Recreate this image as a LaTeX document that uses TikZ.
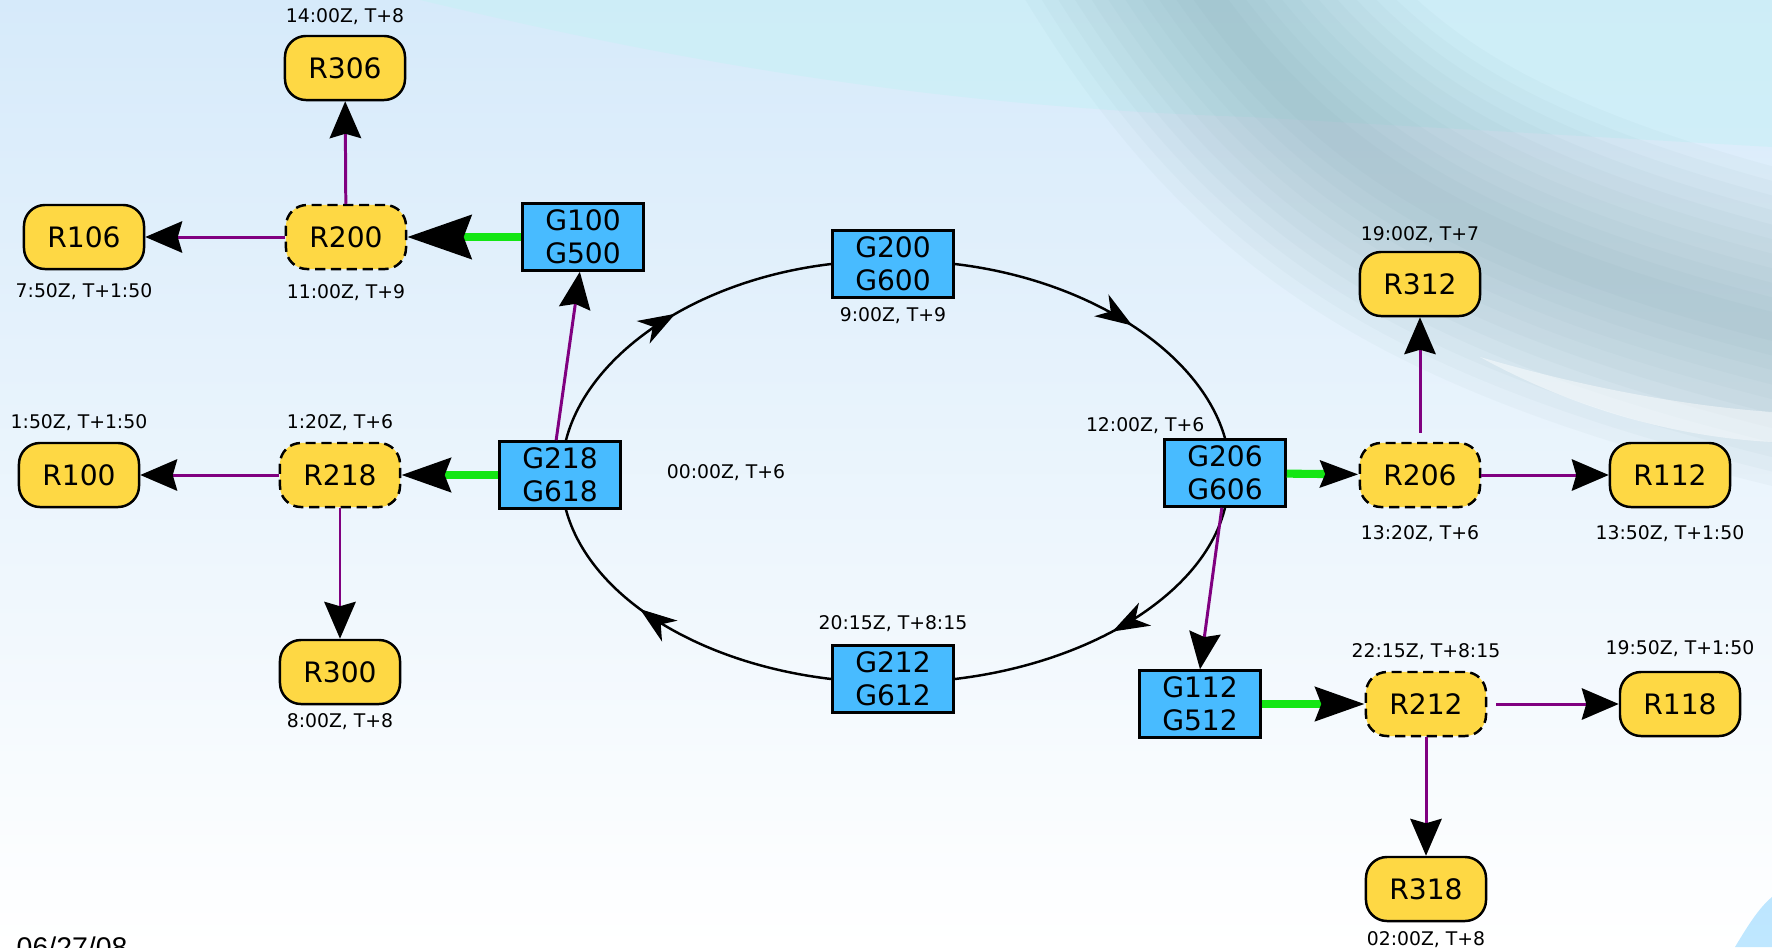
\documentclass[tikz,border=0pt]{standalone}
\usepackage{fontspec}
\setmainfont{DejaVu Sans}
\newfontfamily\datefont{Liberation Sans}
\usetikzlibrary{positioning,arrows.meta,decorations.markings}

\definecolor{rwait}{HTML}{FED844}
\definecolor{gblue}{HTML}{48BBFF}
\definecolor{flowgreen}{HTML}{14E614}
\definecolor{linkpurple}{HTML}{800080}
\definecolor{skytop}{RGB}{214,234,250}
\definecolor{skymid}{RGB}{238,245,252}
\definecolor{swoosh}{RGB}{110,150,158}
\definecolor{haze}{RGB}{200,240,246}

\begin{document}
\begin{tikzpicture}[x=0.01cm,y=0.01cm]
        \tikzstyle{rnode}=[rectangle,rounded corners=0.21cm,draw,line width=0.7pt,fill=rwait,minimum width=1.2cm,minimum height=0.64cm,inner sep=0pt,font=\fontsize{8}{9.4}\selectfont]
        \tikzstyle{rhold}=[rnode,dash pattern=on 2.9pt off 1.6pt]
        \tikzstyle{gnode}=[rectangle,draw,line width=0.7pt,fill=gblue,minimum width=1.21cm,minimum height=0.67cm,inner sep=0pt,align=center,font=\fontsize{8}{9.4}\selectfont,execute at begin node={\rule{0pt}{8.5pt}}]
        \tikzstyle{stamp}=[inner sep=0pt,text height=3.9pt,text depth=0pt,font=\fontsize{5.35}{6}\selectfont]
        \tikzstyle{link}=[linkpurple,line width=0.85pt,-{Stealth[length=10.5pt,width'=0pt 0.85,inset'=0pt 0.12,color=black]}]
        \tikzset{feed/.style={flowgreen,line width=2.3pt,-{Stealth[length=#1,width'=0pt 0.68,inset'=0pt 0.12,color=black]}},
                loopleg/.style={black,line width=0.7pt,postaction={decorate},decoration={markings,mark=at position #1 with {\arrow{Stealth[length=10.5pt,width'=0pt 0.7,inset'=0pt 0.3]}}}}}

        \useasboundingbox (0,0) rectangle (1772,947);
        % washed sky behind the graph
        \shade[top color=skytop,middle color=skymid,bottom color=white] (0,0) rectangle (1772,947);
        \fill[haze,opacity=0.6] (420,947) .. controls (700,880) and (950,840) .. (1250,830) -- (1772,800) -- (1772,947) -- cycle;
        \foreach \w in {88,80,...,8}
                \draw[swoosh,opacity=0.045,line width=\w pt] (1150,1040) .. controls (1300,790) and (1450,690) .. (1900,590);
        \fill[white,opacity=0.45] (1480,590) .. controls (1600,555) and (1700,540) .. (1772,535) -- (1772,505) .. controls (1680,510) and (1580,535) .. (1480,590) -- cycle;
        \fill[gblue,opacity=0.35] (1735,0) .. controls (1750,25) and (1760,40) .. (1772,50) -- (1772,0) -- cycle;

        \node[rnode] (r306) at (345,879) {R306};
        \node[rnode] (r106) at (84,710) {R106};
        \node[rhold] (r200) at (346,710) {R200};
        \node[gnode] (g100) at (583,710) {G100\\G500};
        \node[gnode] (g200) at (893,683) {G200\\G600};
        \node[rnode] (r312) at (1420,663) {R312};
        \node[rnode] (r100) at (79,472) {R100};
        \node[rhold] (r218) at (340,472) {R218};
        \node[gnode] (g218) at (560,472) {G218\\G618};
        \node[gnode] (g206) at (1225,474) {G206\\G606};
        \node[rhold] (r206) at (1420,472) {R206};
        \node[rnode] (r112) at (1670,472) {R112};
        \node[rnode] (r300) at (340,275) {R300};
        \node[gnode] (g212) at (893,268) {G212\\G612};
        \node[gnode] (g112) at (1200,243) {G112\\G512};
        \node[rhold] (r212) at (1426,243) {R212};
        \node[rnode] (r118) at (1680,243) {R118};
        \node[rnode] (r318) at (1426,58) {R318};

        \node[stamp,above=0.12cm of r306] (t306) {14:00Z, T+8};
        \node[stamp,below=0.13cm of r106] (t106) {7:50Z, T+1:50};
        \node[stamp,below=0.14cm of r200] (t200) {11:00Z, T+9};
        \node[stamp,below=0.08cm of g200] (tg200) {9:00Z, T+9};
        \node[stamp,above=0.10cm of r312] (t312) {19:00Z, T+7};
        \node[stamp,above=0.13cm of r100] (t100) {1:50Z, T+1:50};
        \node[stamp,above=0.13cm of r218] (t218) {1:20Z, T+6};
        \node[stamp] (t000) at (726,475) {00:00Z, T+6};
        \node[stamp,anchor=south east] (tg206) at ([xshift=-0.2cm,yshift=0.065cm]g206.north) {12:00Z, T+6};
        \node[stamp,below=0.17cm of r206] (t206) {13:20Z, T+6};
        \node[stamp,below=0.17cm of r112] (t112) {13:50Z, T+1:50};
        \node[stamp,above=0.14cm of g212] (tg212) {20:15Z, T+8:15};
        \node[stamp,above=0.13cm of r212] (t212) {22:15Z, T+8:15};
        \node[stamp,above=0.16cm of r118] (t118) {19:50Z, T+1:50};
        \node[stamp,below=0.08cm of r300] (t300) {8:00Z, T+8};
        \node[stamp,below=0.09cm of r318] (t318) {02:00Z, T+8};

        % the gate loop
        \draw[loopleg=0.56] (g200.east) .. controls +(136,-16) and +(-24,85) .. (g206.north);
        \draw[loopleg=0.51] (g206.south) .. controls +(-21,-86) and +(136,16) .. (g212.east);
        \draw[loopleg=0.62] (g212.west) .. controls +(-136,16) and +(23,-85) .. ([xshift=1.7pt]g218.south);
        \draw[loopleg=0.51] ([xshift=1.7pt]g218.north) .. controls +(22,86) and +(-136,-16) .. (g200.west);

        \draw[feed=18.2pt] (g100) -- (r200);
        \draw[link] (r200) -- (r106);
        \draw[link] (r200) -- (r306);
        \draw[link] ([xshift=-1.1pt]g218.north) -- ([xshift=-0.9pt]g100.south);
        \draw[feed=14pt] (g218) -- (r218);
        \draw[link] (r218) -- (r100);
        \draw[link] (r218) -- (r300);
        \draw[feed=10.8pt] (g206) -- (r206);
        \draw[link,shorten <=2.5pt] (r206) -- (r312);
        \draw[link] (r206) -- (r112);
        \draw[link] ([xshift=-0.9pt]g206.south) -- (g112.north);
        \draw[feed=14pt] (g112) -- (r212);
        \draw[link,shorten <=2.5pt] (r212) -- (r118);
        \draw[link] (r212) -- (r318);

        \node[anchor=base west,inner sep=0pt,font=\datefont\fontsize{8.1}{9}\selectfont] (date) at (16,-10) {06/27/08};
\end{tikzpicture}
\end{document}
